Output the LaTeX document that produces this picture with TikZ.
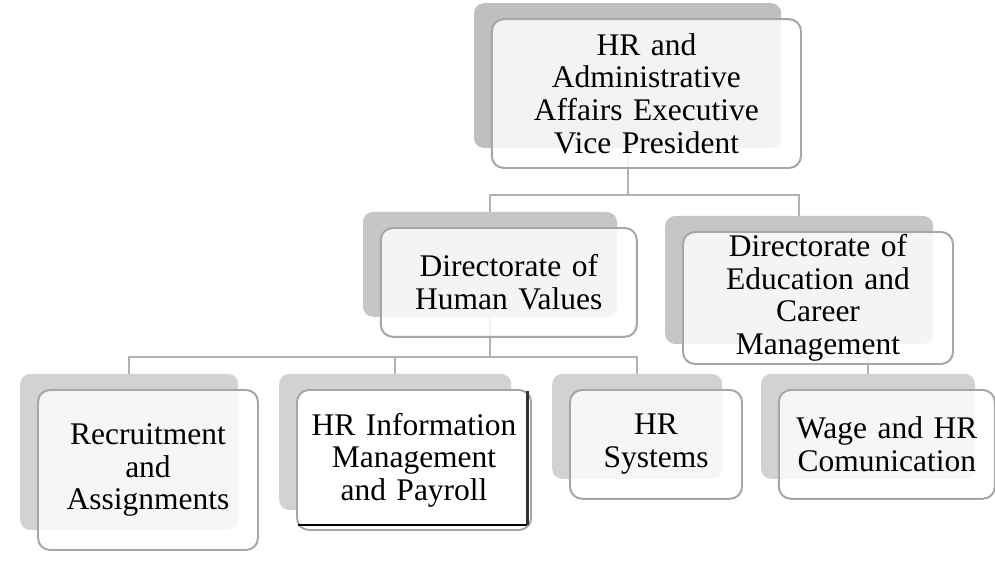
\documentclass[tikz,border=0pt]{standalone}
\usepackage{fontspec}
\setmainfont{Liberation Serif}
\usetikzlibrary{backgrounds}

\tikzset{
  back/.style={rounded corners=0.25cm, inner sep=0pt},
  card/.style={draw=gray!70, line width=1.4pt, rounded corners=0.3cm,
    fill=white, fill opacity=0.82, text opacity=1, inner sep=0pt,
    align=center, font=\fontsize{22.4pt}{23.2pt}\selectfont},
  picked/.style={card, fill opacity=1},
  link/.style={draw=gray!60, line width=1.4pt}
}

\begin{document}
\begin{tikzpicture}
    \useasboundingbox (0,0) rectangle (24.875,14.7);

    % grey back plate first, then the white card on top of it
    \foreach \name/\x/\y/\w/\h/\shade/\sty/\txt in {
        vp/15.69/12.81/7.68/3.62/50/card/{HR and\\Administrative\\Affairs Executive\\Vice President},
        hv/12.25/8.09/6.35/2.62/45/card/{Directorate of\\Human Values},
        edu/19.98/7.70/6.70/3.20/45/card/{Directorate of\\Education and\\Career\\Management},
        rec/3.23/3.40/5.45/3.90/35/card/{Recruitment\\and\\Assignments},
        info/9.88/3.65/5.80/3.40/35/picked/{HR Information\\Management\\and Payroll},
        sys/15.93/4.04/4.25/2.62/35/card/{HR\\Systems},
        wage/21.70/4.04/5.35/2.62/35/card/{Wage and HR\\Comunication}}{
      \pgfmathsetmacro{\tw}{\w+0.05}
      \pgfmathsetmacro{\th}{\h+0.1}
      \node[back, fill=gray!\shade, minimum width=\w cm, minimum height=\h cm] (\name) at (\x,\y) {};
      \node[\sty, text width=\tw cm, minimum height=\th cm] (\name-card) at ([shift={(0.47,-0.45)}]\name.center) {\txt};
    }

    % dark edges of the picked card
    \draw[black, line width=2pt] ([shift={(0.05,0.15)}]info-card.south west) -- ([shift={(-0.12,0.15)}]info-card.south east);
    \draw[gray!40!black, line width=2pt] ([shift={(-0.12,-0.05)}]info-card.north east) -- ([shift={(-0.12,0.15)}]info-card.south east);

    \begin{scope}[on background layer]
      \draw[link] (vp.south) -- ++(0,-1.17) -| (hv.north);
      \draw[link] (vp.south) -- ++(0,-1.17) -| (edu.north);
      \draw[link] (hv.south) -- ++(0,-1) -| (rec.north);
      \draw[link] (hv.south) -- ++(0,-1) -| (info.north);
      \draw[link] (hv.south) -- ++(0,-1) -| (sys.north);
      \draw[link] (edu.south) -- ++(0,-0.33) -| (wage.north);
    \end{scope}
\end{tikzpicture}
\end{document}
